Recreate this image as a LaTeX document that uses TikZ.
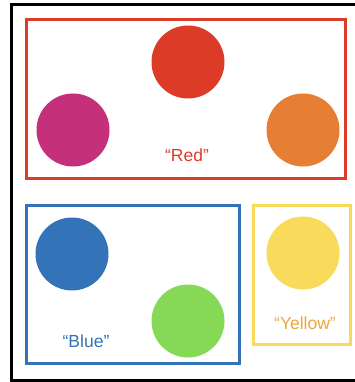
\documentclass[tikz,border=0pt]{standalone}
\usepackage{fontspec}
\setmainfont{Liberation Sans}
\definecolor{cred}{HTML}{DC3C27}
\definecolor{cmag}{HTML}{C4317A}
\definecolor{corange}{HTML}{E67E33}
\definecolor{cblue}{HTML}{3374B8}
\definecolor{cgreen}{HTML}{86D857}
\definecolor{cyellow}{HTML}{F9DA5A}
\definecolor{cyeltext}{HTML}{EDA73B}
\begin{document}
\begin{tikzpicture}[x=1pt,y=-1pt,
  dot/.style={circle,minimum size=73pt,inner sep=0pt},
  grp/.style={line width=3pt},
  lab/.style={font=\fontsize{17.5}{20}\selectfont}]
\useasboundingbox (0,0) rectangle (355,382);
\fill[white] (0,0) rectangle (355,382);
\draw[line width=3pt,black] (11,5) rectangle (370,380);
% groups
\draw[grp,cred] (26,20) rectangle (345,178);
\draw[grp,cblue] (26,205) rectangle (239,363);
\draw[grp,cyellow] (253,205) rectangle (350,344);
% circles
\node[dot,fill=cred] (r1) at (188,62) {};
\node[dot,fill=cmag] (r2) at (73,130) {};
\node[dot,fill=corange] (r3) at (303,130) {};
\node[dot,fill=cblue] (b1) at (72,254) {};
\node[dot,fill=cgreen] (b2) at (188,321) {};
\node[dot,fill=cyellow] (y1) at (303,253) {};
% labels
\node[lab,text=cred] (lr) at (187,155) {“Red"};
\node[lab,text=cblue] (lb) at (86,341) {“Blue”};
\node[lab,text=cyeltext] (ly) at (305,323) {“Yellow”};
\end{tikzpicture}
\end{document}
